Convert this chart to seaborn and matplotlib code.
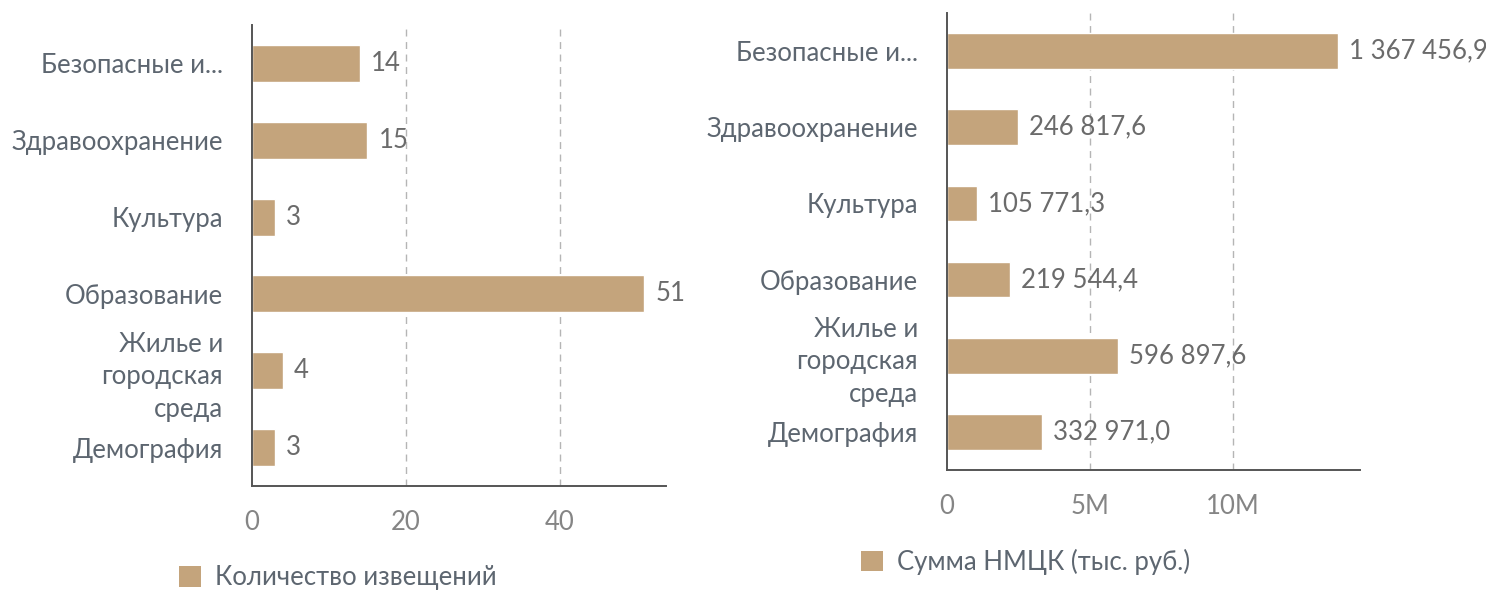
import matplotlib
matplotlib.use("Agg")
import matplotlib.pyplot as plt
from matplotlib.patches import Patch
from matplotlib.ticker import FuncFormatter
import seaborn as sns
import pandas as pd

categories = ["Безопасные и...", "Здравоохранение", "Культура", "Образование",
              "Жилье и\nгородская\nсреда", "Демография"]
notice_counts = [14, 15, 3, 51, 4, 3]
nmck_bars = [13674569, 2468176, 1057713, 2195444, 5968976, 3329710]
nmck_labels = ["1 367 456,9", "246 817,6", "105 771,3", "219 544,4", "596 897,6", "332 971,0"]
left_ticks = [0, 20, 40]
right_ticks = [0, 5_000_000, 10_000_000]
legend_left = "Количество извещений"
legend_right = "Сумма НМЦК (тыс. руб.)"

BAR = "#C4A47C"
LABEL = "#5d6670"
TICK = "#858585"
VAL = "#6b6b6b"
SPINE = "#555555"

sns.set_theme(style="white")
plt.rcParams["font.family"] = ["Lato", "DejaVu Sans"]

df = pd.DataFrame({"cat": categories, "count": notice_counts, "nmck": nmck_bars})

fig = plt.figure(figsize=(14.86, 5.90), dpi=100)
W, H = 1486, 590

def axes_px(x0, x1, ytop, ybot):
    return fig.add_axes([x0 / W, (H - ybot) / H, (x1 - x0) / W, (ybot - ytop) / H])

axL = axes_px(252, 666, 25, 486)
axR = axes_px(947, 1360, 13, 470)

FS = 18.5

def style(ax, ticks, xmax):
    ax.set_xlim(0, xmax)
    ax.set_xticks(ticks)
    for t in ticks[1:]:
        ax.axvline(t, color="#b5b5b5", lw=1, ls=(0, (5, 4)), zorder=0)
    for s in ["top", "right"]:
        ax.spines[s].set_visible(False)
    for s in ["left", "bottom"]:
        ax.spines[s].set_color(SPINE)
        ax.spines[s].set_linewidth(1.4)
    ax.set_xlabel("")
    ax.set_ylabel("")
    ax.tick_params(axis="y", length=0, pad=21, labelsize=FS, labelcolor=LABEL)
    ax.tick_params(axis="x", length=0, pad=17, labelsize=FS, labelcolor=TICK)
    for lab in ax.get_yticklabels():
        lab.set_linespacing(1.37)

sns.barplot(data=df, y="cat", x="count", orient="h", color=BAR, width=0.48,
            saturation=1, ax=axL)
style(axL, left_ticks, 53.8)
axL.bar_label(axL.containers[0], labels=[str(v) for v in notice_counts],
              padding=8, fontsize=FS, color=VAL)

sns.barplot(data=df, y="cat", x="nmck", orient="h", color=BAR, width=0.47,
            saturation=1, ax=axR)
style(axR, right_ticks, 14_440_000)
axR.xaxis.set_major_formatter(FuncFormatter(lambda v, p: "0" if v == 0 else f"{v/1e6:.0f}M"))
axR.bar_label(axR.containers[0], labels=nmck_labels, padding=8, fontsize=FS, color=VAL)

for ax, lab, (cx, cy) in [(axL, legend_left, (338, 578)), (axR, legend_right, (1026, 562))]:
    fig.legend(handles=[Patch(facecolor=BAR, edgecolor="none", label=lab)],
               loc="center", bbox_to_anchor=(cx / W, (H - cy) / H), frameon=False,
               fontsize=FS, labelcolor=LABEL, handlelength=0.85, handleheight=0.85,
               handletextpad=0.55)

fig.savefig("out.png", dpi=100)
